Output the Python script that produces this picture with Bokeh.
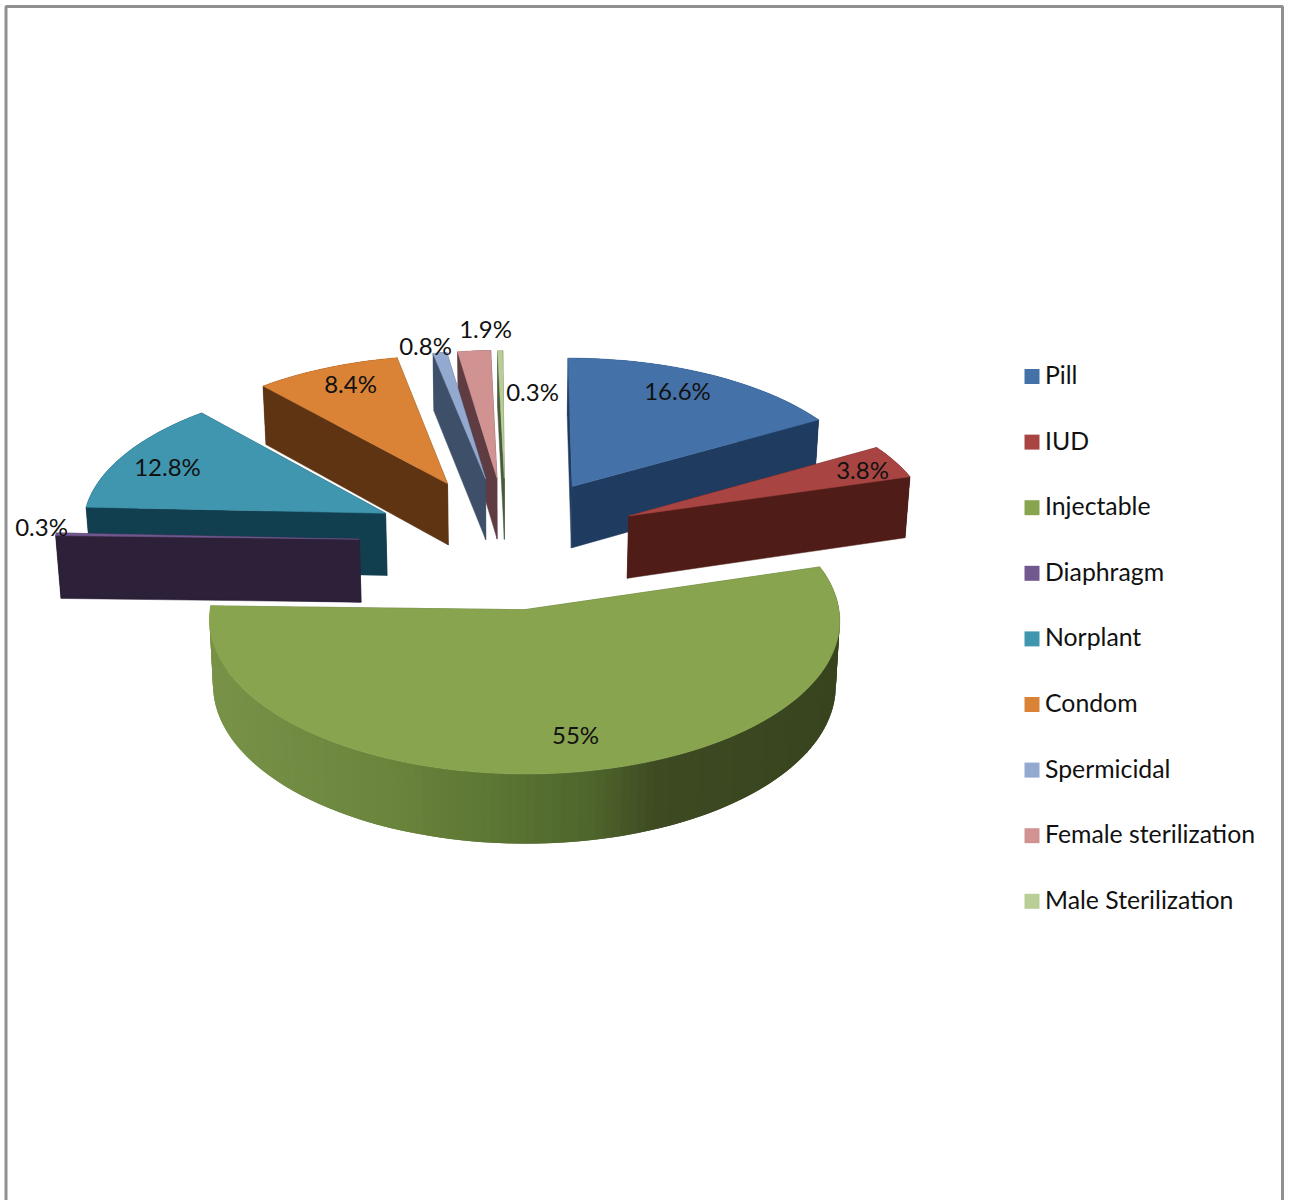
from bokeh.core.properties import value
from bokeh.embed import file_html
from bokeh.models import ColumnDataSource, Range1d
from bokeh.plotting import figure
from bokeh.resources import INLINE
import math

# Contraceptive method shares, in percent, clockwise from twelve o'clock
categories = ["Pill", "IUD", "Injectable", "Diaphragm", "Norplant", "Condom",
              "Spermicidal", "Female sterilization", "Male Sterilization"]
shares = [16.6, 3.8, 55, 0.3, 12.8, 8.4, 0.8, 1.9, 0.3]

top_colors = ["#4472a8", "#a84543", "#89a44e", "#71588f", "#3f96ae", "#da8337",
              "#93a9cf", "#d19392", "#b9cd96"]
wall_colors = ["#1f3c60", "#4f1c17", "#4d652c", "#2c2138", "#123f50", "#5e3413",
               "#3e5069", "#5f3c42", "#4a5a3c"]

# Pie geometry in page pixels (y grows downwards)
CX, CY = 505, 543
RX, RY = 305, 144
DEPTH = 63
EXPLODE = 0.46
PERSPECTIVE = 0.066
TAPER = 0.012
FONT = "Lato"

# Small per-slice shifts (pixels) applied after projection
nudge_x = [-1.5, -4, 0, -6, 5, 2.5, 3, 3, 1]
nudge_y = [-1, -1.5, -1.5, -2, -2, -2, -1.5, -1.5, -1]


def project(x, y, drop=0.0, shift=(0, 0)):
    """Perspective projection of a point on the disc, in radius units."""
    w = 1 + PERSPECTIVE * y
    px = CX + RX * x / w
    px = CX + (px - CX) * (1 - TAPER * drop)
    return px + shift[0], CY - RY * y / w + drop * DEPTH / w + shift[1]


def slice_outline(start, end):
    """Apex and rim points of one exploded slice; angles in degrees clockwise from north."""
    mid = math.radians((start + end) / 2)
    ax, ay = EXPLODE * math.sin(mid), EXPLODE * math.cos(mid)
    steps = max(2, int((end - start) / 1.5))
    rim = []
    for i in range(steps + 1):
        t = math.radians(start + (end - start) * i / steps)
        rim.append((ax + math.sin(t), ay + math.cos(t)))
    return (ax, ay), rim


def ramp(t, stops):
    """Interpolate a colour along a list of (position, (r, g, b)) stops."""
    t = min(max(t, 0.0), 1.0)
    for (p0, c0), (p1, c1) in zip(stops, stops[1:]):
        if t <= p1:
            f = (t - p0) / (p1 - p0)
            rgb = [round(a + (b - a) * f) for a, b in zip(c0, c1)]
            return "#%02x%02x%02x" % tuple(rgb)
    return "#%02x%02x%02x" % stops[-1][1]


# Shading of the curved rim of the large slice, left to right
RIM_STOPS = [(0.0, (120, 146, 72)), (0.3, (106, 132, 60)), (0.5, (88, 114, 50)),
             (0.62, (78, 100, 44)), (0.72, (62, 74, 34)), (1.0, (56, 68, 30))]

p = figure(width=1291, height=1200, output_backend="svg", toolbar_location=None,
           x_range=Range1d(0, 1291), y_range=Range1d(1200, 0),
           min_border=0, outline_line_color=None, background_fill_color="white")
p.xaxis.visible = False
p.yaxis.visible = False
p.grid.visible = False

# Chart frame: top and both sides run off the bottom of the page
p.line([5.5, 5.5, 1282, 1282], [1200, 6, 6, 1200], line_color="#909090", line_width=3)

angles = []
acc = 0.0
for s in shares:
    angles.append((acc, acc + s * 3.6))
    acc += s * 3.6

# Painter's order: rear slices first, the front slice last
draw_order = [8, 7, 6, 5, 0, 4, 1, 3, 2]
for idx in draw_order:
    start, end = angles[idx]
    apex, rim = slice_outline(start, end)
    top = [apex] + rim
    wall = wall_colors[idx]
    shift = (nudge_x[idx], nudge_y[idx])

    # Straight cut faces
    for edge in (rim[0], rim[-1]):
        quad = [project(*apex, shift=shift), project(*edge, shift=shift),
                project(*edge, drop=1, shift=shift), project(*apex, drop=1, shift=shift)]
        p.patch([q[0] for q in quad], [q[1] for q in quad],
                fill_color=wall, line_color=wall, line_width=0.5)

    # Curved outer wall; strips overlap their neighbour so no seams show
    count = len(rim) - 1
    for i in range(count):
        a, b = rim[i], rim[min(i + 2, count)]
        quad = [project(*a, shift=shift), project(*b, shift=shift),
                project(*b, drop=1, shift=shift), project(*a, drop=1, shift=shift)]
        colour = wall
        if idx == 2:
            colour = ramp((project(*rim[i], shift=shift)[0] - 210) / 628, RIM_STOPS)
        p.patch([q[0] for q in quad], [q[1] for q in quad],
                fill_color=colour, line_color=None)

    # Top surface
    pts = [project(*q, shift=shift) for q in top]
    p.patch([q[0] for q in pts], [q[1] for q in pts],
            fill_color=top_colors[idx], line_color=top_colors[idx], line_width=0.5)

# Value labels, positioned by hand around the exploded slices
label_x = [677, 862, 575, 41, 167, 350, 425, 485, 532]
label_y = [390, 469, 734, 526, 466, 383, 345, 328, 391]
labels = ColumnDataSource(dict(x=label_x, y=label_y, text=[f"{v:g}%" for v in shares]))
p.text(x="x", y="y", text="text", source=labels, text_font=value(FONT), text_font_size="24px",
       text_align="center", text_baseline="middle", text_color="#111111")

# Legend column
LEGEND_TOP, LEGEND_STEP = 376, 65.6
leg_y = [LEGEND_TOP + i * LEGEND_STEP for i in range(len(categories))]
p.quad(left=[1024] * 9, right=[1039] * 9,
       top=[y - 7.5 for y in leg_y], bottom=[y + 7.5 for y in leg_y],
       fill_color=top_colors, line_color=None)
p.text(x=[1044.5] * 9, y=[y - 2 for y in leg_y], text=categories, text_font=value(FONT),
       text_font_size="24.8px", text_align="left", text_baseline="middle", text_color="#111111")

open("out.html", "w").write(file_html(p, INLINE))
